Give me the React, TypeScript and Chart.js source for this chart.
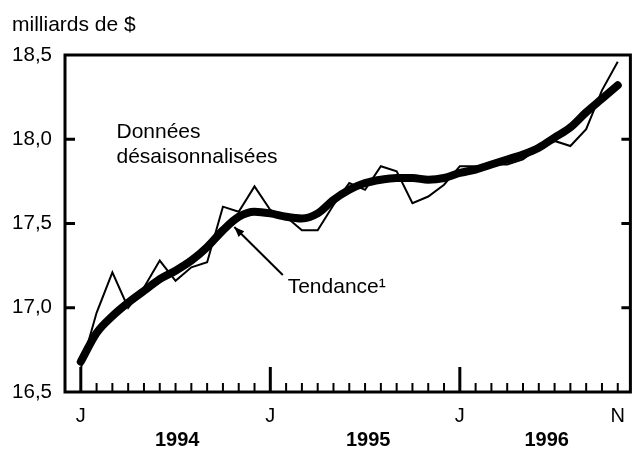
import React, { useEffect, useRef } from 'react';
import { Chart, registerables } from 'chart.js';

Chart.register(...registerables);

// ---- Data ----
const months = [
  '1994-01', '1994-02', '1994-03', '1994-04', '1994-05', '1994-06',
  '1994-07', '1994-08', '1994-09', '1994-10', '1994-11', '1994-12',
  '1995-01', '1995-02', '1995-03', '1995-04', '1995-05', '1995-06',
  '1995-07', '1995-08', '1995-09', '1995-10', '1995-11', '1995-12',
  '1996-01', '1996-02', '1996-03', '1996-04', '1996-05', '1996-06',
  '1996-07', '1996-08', '1996-09', '1996-10', '1996-11',
];

const rawValues = [
  16.64, 16.97, 17.21, 17.0, 17.12, 17.28, 17.16, 17.24, 17.27, 17.6, 17.57, 17.72,
  17.58, 17.54, 17.46, 17.46, 17.61, 17.74, 17.7, 17.84, 17.81, 17.62, 17.66, 17.73,
  17.84, 17.84, 17.85, 17.85, 17.88, 17.95, 17.99, 17.96, 18.06, 18.29, 18.46,
];

const trendValues = [
  16.68, 16.85, 16.95, 17.03, 17.1, 17.17, 17.22, 17.28, 17.36, 17.46, 17.54, 17.57,
  17.56, 17.54, 17.53, 17.56, 17.64, 17.7, 17.74, 17.76, 17.77, 17.77, 17.76, 17.77,
  17.8, 17.82, 17.85, 17.88, 17.91, 17.95, 18.01, 18.07, 18.16, 18.24, 18.32,
];

const yTickValues = [16.5, 17.0, 17.5, 18.0, 18.5];
const yTickLabels = ['16,5', '17,0', '17,5', '18,0', '18,5'];
const xTickIndex = [0, 12, 24, 34];
const xTickLabels = ['J', 'J', 'J', 'N'];
const majorTickIndex = [0, 12, 24];
const yearLabels = ['1994', '1995', '1996'];
const yearLabelPos = [6.1, 18.2, 29.5];
const unitLabel = 'milliards de $';
const noteLines = ['Données', 'désaisonnalisées'];
const noteX = 2.26;
const noteY = [18.007, 17.859];
const trendLabel = 'Tendance¹';
const trendLabelAt = { x: 13.1, y: 17.088 };
const arrowTip = { x: 9.72, y: 17.479 };
const arrowTail = { x: 12.79, y: 17.194 };

const FAMILY = '"Liberation Sans", Arial, Helvetica, sans-serif';
const INK = '#000';

const decorPlugin = {
  id: 'decor',
  afterDatasetsDraw(chart: any) {
    const { ctx, chartArea: ca, scales } = chart;
    const x = scales.x;
    const y = scales.y;
    const seg = (x1: number, y1: number, x2: number, y2: number) => {
      ctx.beginPath();
      ctx.moveTo(x1, y1);
      ctx.lineTo(x2, y2);
      ctx.stroke();
    };
    ctx.save();
    ctx.strokeStyle = INK;
    ctx.fillStyle = INK;
    ctx.lineCap = 'butt';

    // frame
    ctx.lineWidth = 3;
    ctx.strokeRect(ca.left, ca.top, ca.right - ca.left, ca.bottom - ca.top);

    // y ticks (inward on both sides)
    yTickValues.forEach((v) => {
      if (v === yTickValues[0] || v === yTickValues[yTickValues.length - 1]) return;
      const py = y.getPixelForValue(v);
      seg(ca.left, py, ca.left + 10, py);
      seg(ca.right - 9, py, ca.right, py);
    });

    // x ticks (inward, monthly)
    months.forEach((_m, i) => {
      const px = x.getPixelForValue(i);
      if (majorTickIndex.includes(i)) {
        ctx.lineWidth = 3;
        seg(px, ca.bottom, px, ca.bottom - 25);
      } else {
        ctx.lineWidth = 2;
        seg(px, ca.bottom, px, ca.bottom - 9);
      }
    });

    // year labels
    ctx.font = `bold 20px ${FAMILY}`;
    ctx.textAlign = 'center';
    ctx.textBaseline = 'middle';
    yearLabels.forEach((t, k) => {
      ctx.fillText(t, x.getPixelForValue(yearLabelPos[k]), ca.bottom + 48);
    });

    // unit label
    ctx.font = `21px ${FAMILY}`;
    ctx.textAlign = 'left';
    ctx.textBaseline = 'alphabetic';
    ctx.fillText(unitLabel, 12, 31);

    // notes
    noteLines.forEach((t, k) => {
      ctx.fillText(t, x.getPixelForValue(noteX), y.getPixelForValue(noteY[k]));
    });
    ctx.fillText(trendLabel, x.getPixelForValue(trendLabelAt.x), y.getPixelForValue(trendLabelAt.y));

    // arrow
    const tx = x.getPixelForValue(arrowTip.x);
    const ty = y.getPixelForValue(arrowTip.y);
    const sx = x.getPixelForValue(arrowTail.x);
    const sy = y.getPixelForValue(arrowTail.y);
    ctx.lineWidth = 2;
    seg(sx, sy, tx, ty);
    const ang = Math.atan2(ty - sy, tx - sx);
    const L = 10;
    const W = 4;
    ctx.beginPath();
    ctx.moveTo(tx, ty);
    ctx.lineTo(tx - L * Math.cos(ang) + W * Math.sin(ang), ty - L * Math.sin(ang) - W * Math.cos(ang));
    ctx.lineTo(tx - L * Math.cos(ang) - W * Math.sin(ang), ty - L * Math.sin(ang) + W * Math.cos(ang));
    ctx.closePath();
    ctx.fill();

    ctx.restore();
  },
};

export default function App() {
  const ref = useRef<HTMLCanvasElement>(null);

  useEffect(() => {
    if (!ref.current) return;
    const chart = new Chart(ref.current, {
      type: 'line',
      data: {
        datasets: [
          {
            label: 'Données désaisonnalisées',
            data: rawValues.map((v, i) => ({ x: i, y: v })),
            borderColor: INK,
            borderWidth: 2,
            pointRadius: 0,
            tension: 0,
            fill: false,
          },
          {
            label: 'Tendance',
            data: trendValues.map((v, i) => ({ x: i, y: v })),
            borderColor: INK,
            borderWidth: 8,
            borderCapStyle: 'round',
            borderJoinStyle: 'round',
            pointRadius: 0,
            cubicInterpolationMode: 'monotone',
            fill: false,
          },
        ],
      },
      options: {
        responsive: false,
        animation: false,
        devicePixelRatio: 1,
        layout: { padding: { top: 55, right: 1, left: 0, bottom: 0 } },
        plugins: {
          legend: { display: false },
          tooltip: { enabled: false },
          title: { display: false },
        },
        scales: {
          x: {
            type: 'linear',
            min: -1,
            max: 34.8,
            grid: { display: false, drawTicks: false },
            border: { display: false },
            afterBuildTicks: (s: any) => {
              s.ticks = xTickIndex.map((v) => ({ value: v }));
            },
            afterFit: (s: any) => {
              s.height = 57;
            },
            ticks: {
              autoSkip: false,
              maxRotation: 0,
              padding: 12,
              color: INK,
              font: { family: FAMILY, size: 20 },
              callback: (v: any) => {
                const k = xTickIndex.indexOf(Number(v));
                return k >= 0 ? xTickLabels[k] : '';
              },
            },
          },
          y: {
            type: 'linear',
            min: 16.5,
            max: 18.5,
            grid: { display: false, drawTicks: false },
            border: { display: false },
            afterBuildTicks: (s: any) => {
              s.ticks = yTickValues.map((v) => ({ value: v }));
            },
            afterFit: (s: any) => {
              s.width = 65;
            },
            ticks: {
              padding: 13,
              color: INK,
              font: { family: FAMILY, size: 20.5 },
              callback: (v: any) => {
                const k = yTickValues.indexOf(Number(v));
                return k >= 0 ? yTickLabels[k] : '';
              },
            },
          },
        },
      },
      plugins: [decorPlugin],
    } as any);
    return () => chart.destroy();
  }, []);

  return (
    <div style={{ position: 'absolute', left: 0, top: 0, width: 637, height: 449, background: '#fff' }}>
      <canvas ref={ref} width={637} height={449} />
    </div>
  );
}
